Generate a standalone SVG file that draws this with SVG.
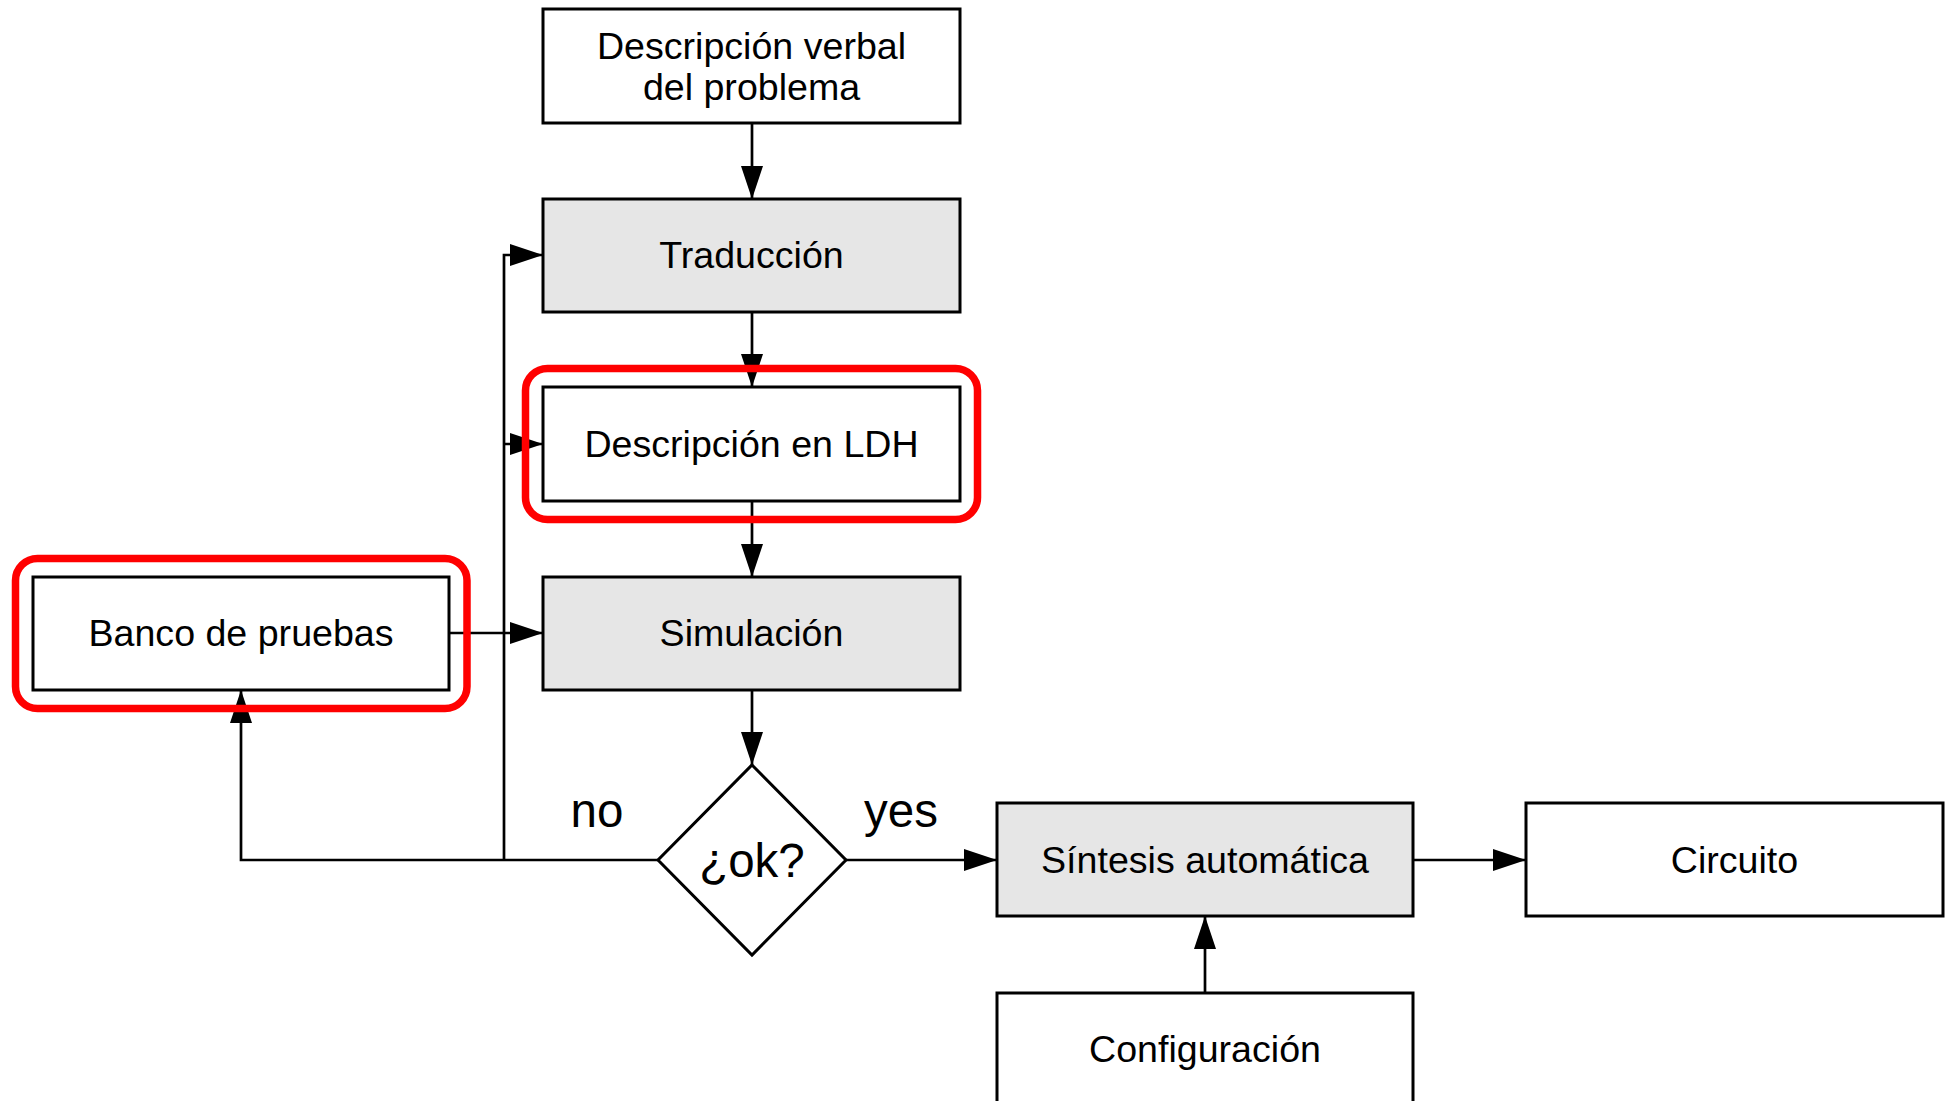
<svg xmlns="http://www.w3.org/2000/svg" width="1948" height="1101" viewBox="0 0 1948 1101">
<style>
.box{fill:#ffffff;stroke:#000;stroke-width:3}
.grey{fill:#e6e6e6}
.lbl{font-family:"Liberation Sans",Arial,sans-serif;font-size:37.6px;fill:#000;text-anchor:middle}
.big{font-size:47.5px}
.conn{fill:none;stroke:#000;stroke-width:2.7;marker-end:url(#ah)}
.hl{fill:none;stroke:#ff0000;stroke-width:7.5}
</style>
<defs>
<marker id="ah" markerUnits="userSpaceOnUse" markerWidth="34" markerHeight="24" viewBox="0 0 34 24" refX="33" refY="12" orient="auto">
<path d="M0,1 L33,12 L0,23 z" fill="#000"/>
</marker>
</defs>
<rect width="1948" height="1101" fill="#ffffff"/>
<g id="connectors">
<path class="conn" d="M752,123 V199"/>
<path class="conn" d="M752,312 V387"/>
<path class="conn" d="M752,501 V577"/>
<path class="conn" d="M752,690 V765"/>
<path class="conn" d="M846,860 H997"/>
<path class="conn" d="M1413,860 H1526"/>
<path class="conn" d="M1205,993 V916"/>
<path class="conn" d="M449,633 H543"/>
<path class="conn" d="M658,860 H241 V690"/>
<path class="conn" d="M504,860 V255 H543"/>
<path class="conn" d="M504,444 H543"/>
</g>
<g id="n-descripcion-verbal">
<rect class="box" x="543" y="9" width="417" height="114"/>
<text class="lbl" x="751.5" y="59">Descripción verbal</text>
<text class="lbl" x="751.5" y="100">del problema</text>
</g>
<g id="n-traduccion">
<rect class="box grey" x="543" y="199" width="417" height="113"/>
<text class="lbl" x="751.5" y="268">Traducción</text>
</g>
<g id="n-ldh">
<rect class="box" x="543" y="387" width="417" height="114"/>
<text class="lbl" x="751.5" y="457">Descripción en LDH</text>
</g>
<g id="n-simulacion">
<rect class="box grey" x="543" y="577" width="417" height="113"/>
<text class="lbl" x="751.5" y="646">Simulación</text>
</g>
<g id="n-banco">
<rect class="box" x="33" y="577" width="416" height="113"/>
<text class="lbl" x="241" y="646">Banco de pruebas</text>
</g>
<g id="n-ok">
<polygon class="box" points="752,765 846,860 752,955 658,860"/>
<text class="lbl big" x="752" y="877">¿ok?</text>
</g>
<g id="edge-labels">
<text class="lbl big" x="597" y="827">no</text>
<text class="lbl big" x="901" y="827">yes</text>
</g>
<g id="n-sintesis">
<rect class="box grey" x="997" y="803" width="416" height="113"/>
<text class="lbl" x="1205" y="873">Síntesis automática</text>
</g>
<g id="n-circuito">
<rect class="box" x="1526" y="803" width="417" height="113"/>
<text class="lbl" x="1734.5" y="873">Circuito</text>
</g>
<g id="n-configuracion">
<rect class="box" x="997" y="993" width="416" height="113"/>
<text class="lbl" x="1205" y="1062">Configuración</text>
</g>
<g id="highlights">
<rect class="hl" x="525.5" y="368.5" width="452" height="151" rx="22"/>
<rect class="hl" x="15.5" y="558.5" width="451.5" height="150" rx="22"/>
</g>
</svg>
